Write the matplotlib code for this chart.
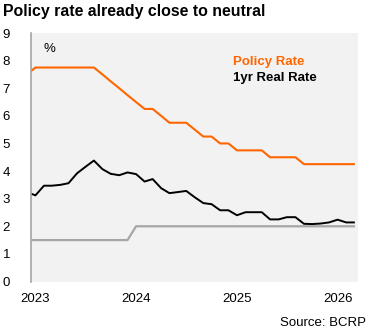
import pandas as pd
import matplotlib
matplotlib.use("Agg")
import matplotlib.pyplot as plt

plt.rcParams['font.family'] = ['Liberation Sans', 'DejaVu Sans']

# monthly observations, Dec 2022 - Mar 2026
months = pd.date_range('2022-12-01', '2026-03-01', freq='MS')

policy_rate = [7.5,
               7.75, 7.75, 7.75, 7.75, 7.75, 7.75, 7.75, 7.75, 7.5, 7.25, 7.0, 6.75,
               6.5, 6.25, 6.25, 6.0, 5.75, 5.75, 5.75, 5.5, 5.25, 5.25, 5.0, 5.0,
               4.75, 4.75, 4.75, 4.75, 4.5, 4.5, 4.5, 4.5, 4.25, 4.25, 4.25, 4.25,
               4.25, 4.25, 4.25]

real_rate = [3.24,
             3.12, 3.47, 3.47, 3.5, 3.56, 3.92, 4.15, 4.38, 4.07, 3.9, 3.85, 3.95,
             3.89, 3.62, 3.71, 3.38, 3.2, 3.24, 3.28, 3.05, 2.84, 2.8, 2.58, 2.58,
             2.4, 2.51, 2.51, 2.51, 2.25, 2.25, 2.33, 2.33, 2.09, 2.08, 2.1, 2.14,
             2.24, 2.14, 2.14]

neutral_rate = [1.5] * 13 + [2.0] * 27

year_ticks = ['2023', '2024', '2025', '2026']

orange = '#ff6600'
grey = '#a6a6a6'

fig = plt.figure(figsize=(3.75, 3.31), dpi=100)
ax = fig.add_axes([0.0827, 0.1495, 0.872, 0.7508])
ax.set_facecolor('#f2f2f2')

ax.plot(months, neutral_rate, color=grey, lw=1.6)
ax.plot(months, real_rate, color='black', lw=1.4)
ax.plot(months, policy_rate, color=orange, lw=1.5)

ax.set_xlim(pd.Timestamp('2022-12-16'), pd.Timestamp('2026-03-16'))
ax.set_ylim(0, 9)
ax.set_yticks(range(0, 10))
ax.set_xticks([pd.Timestamp(y + '-01-01') for y in year_ticks])
ax.set_xticklabels(year_ticks)
ax.tick_params(length=0, labelsize=9.5)
ax.tick_params(axis='y', pad=15)
ax.tick_params(axis='x', pad=8)

for s in ['top', 'right', 'bottom']:
    ax.spines[s].set_visible(False)
ax.spines['left'].set_color(grey)
ax.spines['left'].set_linewidth(1.2)

fig.text(0.008, 0.965, 'Policy rate already close to neutral', fontsize=11.4,
         fontweight='bold', va='center', ha='left')
ax.text(0.039, 0.935, '%', transform=ax.transAxes, fontsize=9.5, va='center')
ax.text(0.618, 0.885, 'Policy Rate', transform=ax.transAxes, fontsize=9.5,
        fontweight='bold', color=orange, va='center')
ax.text(0.618, 0.818, '1yr Real Rate', transform=ax.transAxes, fontsize=9.5,
        fontweight='bold', color='black', va='center')
fig.text(0.976, 0.025, 'Source: BCRP', fontsize=9.5, ha='right', va='center')

fig.savefig('out.png', dpi=100)
